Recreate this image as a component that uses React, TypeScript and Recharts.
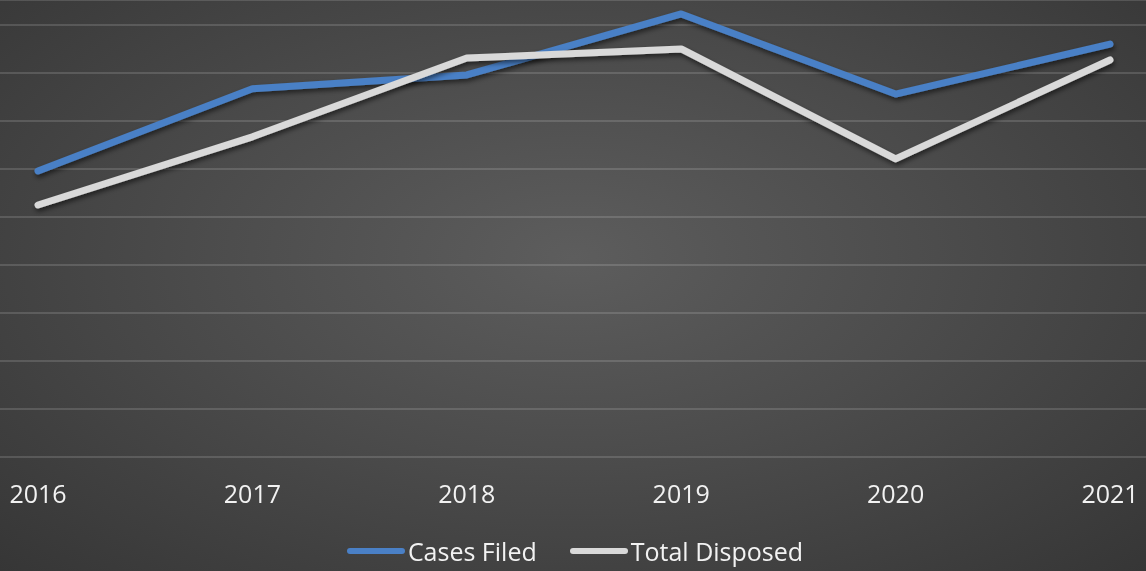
import { CartesianGrid, Legend, Line, LineChart, XAxis, YAxis } from 'recharts';

const years = ['2016', '2017', '2018', '2019', '2020', '2021'];
const casesFiled = [5.96, 7.67, 7.96, 9.23, 7.56, 8.6];
const totalDisposed = [5.25, 6.67, 8.31, 8.5, 6.21, 8.27];
const gridTicks = [0, 1, 2, 3, 4, 5, 6, 7, 8, 9];

const BLUE = '#4a80c6';
const WHITE = '#d9d9d9';
const TEXT = '#f2f2f2';
const FONT = '"Open Sans", Calibri, sans-serif';

const data = years.map((year, i) => ({
  year,
  filed: casesFiled[i],
  disposed: totalDisposed[i],
}));

const legendItems = [
  { label: 'Cases Filed', color: BLUE },
  { label: 'Total Disposed', color: WHITE },
];

function ChartLegend() {
  return (
    <div
      style={{
        display: 'flex',
        justifyContent: 'center',
        alignItems: 'center',
        gap: 33,
        fontFamily: FONT,
        fontSize: 25,
        color: TEXT,
        paddingTop: 3,
        paddingLeft: 4,
      }}
    >
      {legendItems.map(item => (
        <span key={item.label} style={{ display: 'flex', alignItems: 'center' }}>
          <span
            style={{
              display: 'inline-block',
              width: 58,
              height: 6,
              borderRadius: 3,
              background: item.color,
              marginRight: 3,
            }}
          />
          {item.label}
        </span>
      ))}
    </div>
  );
}

export default function App() {
  return (
    <div
      style={{
        position: 'fixed',
        left: 0,
        top: 0,
        width: 1146,
        height: 571,
        background: 'radial-gradient(ellipse at 50% 45%, #5d5d5d 0%, #4c4c4c 45%, #363636 100%)',
      }}
    >
      <LineChart width={1146} height={571} data={data} margin={{ top: 0, right: 0, bottom: 0, left: 0 }}>
        <defs>
          <filter id="lineShadow" x="-10%" y="-20%" width="120%" height="140%">
            <feDropShadow dx="1" dy="3" stdDeviation="2.5" floodColor="#000" floodOpacity="0.55" />
          </filter>
        </defs>
        <CartesianGrid stroke="rgba(255,255,255,0.14)" strokeWidth={2} vertical={false} />
        <XAxis
          dataKey="year"
          axisLine={false}
          tickLine={false}
          tickSize={0}
          tickMargin={28}
          height={74}
          interval={0}
          padding={{ left: 38, right: 36 }}
          tick={{ fill: TEXT, fontSize: 25, fontFamily: FONT }}
        />
        <YAxis hide domain={[0, 9.52]} ticks={gridTicks} allowDataOverflow />
        <Legend verticalAlign="bottom" height={40} content={<ChartLegend />} />
        <Line
          dataKey="filed"
          name="Cases Filed"
          stroke={BLUE}
          strokeWidth={7}
          strokeLinecap="round"
          strokeLinejoin="round"
          dot={false}
          activeDot={false}
          filter="url(#lineShadow)"
          isAnimationActive={false}
        />
        <Line
          dataKey="disposed"
          name="Total Disposed"
          stroke={WHITE}
          strokeWidth={7}
          strokeLinecap="round"
          strokeLinejoin="round"
          dot={false}
          activeDot={false}
          filter="url(#lineShadow)"
          isAnimationActive={false}
        />
      </LineChart>
    </div>
  );
}
